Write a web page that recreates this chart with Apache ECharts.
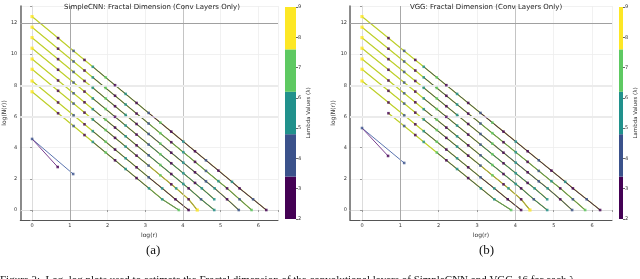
<!DOCTYPE html>
<html><head><meta charset="utf-8">
<script src="https://cdn.jsdelivr.net/npm/echarts@6/dist/echarts.min.js"></script>
<style>html,body{margin:0;padding:0;background:#fff}#c{width:640px;height:279px}</style>
</head><body><div id="c"></div>
<script>
// ---- data ----
const viridis5 = ['#440154', '#3b528b', '#21918c', '#5ec962', '#fde725'];
const colorbarTicks = [2, 3, 4, 5, 6, 7, 8, 9];
const colorbarEdges = [2, 3.4, 4.8, 6.2, 7.6, 9];
const xTickValues = [0, 1, 2, 3, 4, 5, 6];
const yTickValues = [0, 2, 4, 6, 8, 10, 12];

const L1_x = [0, 0.69, 1.10, 1.39, 1.61, 1.95, 2.20, 2.48, 2.77, 3.09, 3.40, 3.69, 4.01, 4.32, 4.61, 4.94, 5.30, 5.50, 5.86, 6.21];
const L1_y = [12.41, 11.03, 10.21, 9.63, 9.19, 8.51, 8.01, 7.45, 6.87, 6.23, 5.61, 5.03, 4.39, 3.77, 3.19, 2.53, 1.81, 1.39, 0.69, 0];
const L1_c = [4, 0, 1, 0, 2, 3, 0, 2, 0, 1, 3, 0, 2, 0, 1, 0, 2, 0, 1, 0];
const L2_x = [0, 0.69, 1.10, 1.39, 1.61, 1.95, 2.20, 2.48, 2.77, 3.09, 3.40, 3.69, 4.01, 4.32, 4.61, 4.94, 5.17, 5.50, 5.82];
const L2_y = [11.73, 10.35, 9.53, 8.95, 8.51, 7.83, 7.33, 6.77, 6.19, 5.55, 4.93, 4.35, 3.71, 3.09, 2.51, 1.85, 1.39, 0.69, 0];
const L2_c = [4, 0, 1, 0, 2, 3, 0, 2, 0, 1, 3, 0, 2, 0, 1, 2, 0, 1, 3];
const L3_x = [0, 0.69, 1.10, 1.39, 1.61, 1.95, 2.20, 2.48, 2.77, 3.09, 3.40, 3.69, 4.01, 4.32, 4.61, 4.84, 5.17, 5.48];
const L3_y = [11.06, 9.68, 8.86, 8.28, 7.84, 7.16, 6.66, 6.10, 5.52, 4.88, 4.26, 3.68, 3.04, 2.42, 1.84, 1.39, 0.69, 0];
const L3_c = [4, 0, 1, 0, 2, 3, 0, 2, 0, 1, 3, 0, 2, 0, 1, 2, 0, 1];
const L4_x = [0, 0.69, 1.10, 1.39, 1.61, 1.95, 2.20, 2.48, 2.77, 3.09, 3.40, 3.69, 4.01, 4.32, 4.50, 4.83];
const L4_y = [10.38, 9.00, 8.18, 7.60, 7.16, 6.48, 5.98, 5.42, 4.84, 4.20, 3.58, 3.00, 2.36, 1.74, 1.39, 0.69];
const L4_c = [4, 0, 1, 0, 2, 3, 0, 2, 0, 1, 3, 0, 2, 0, 2, 2];
const L5_x = [0, 0.69, 1.10, 1.39, 1.61, 1.95, 2.20, 2.48, 2.77, 3.09, 3.40, 3.69, 4.01, 4.15, 4.48, 4.83];
const L5_y = [9.69, 8.31, 7.49, 6.91, 6.47, 5.79, 5.29, 4.73, 4.15, 3.51, 2.89, 2.31, 1.67, 1.39, 0.69, 0];
const L5_c = [4, 0, 1, 0, 2, 3, 0, 2, 0, 1, 3, 0, 2, 0, 1, 2];
const L6_x = [0, 0.69, 1.10, 1.39, 1.61, 1.95, 2.20, 2.48, 2.77, 3.09, 3.40, 3.69, 3.82, 4.15, 4.38];
const L6_y = [9.03, 7.65, 6.83, 6.25, 5.81, 5.13, 4.63, 4.07, 3.49, 2.85, 2.23, 1.65, 1.39, 0.69, 0];
const L6_c = [4, 0, 1, 0, 2, 3, 0, 2, 0, 1, 3, 0, 2, 0, 4];
const L7_x = [0, 0.69, 1.10, 1.39, 1.61, 1.95, 2.20, 2.48, 2.77, 3.09, 3.45, 3.80, 4.15];
const L7_y = [8.28, 6.90, 6.08, 5.50, 5.06, 4.38, 3.88, 3.32, 2.74, 2.10, 1.39, 0.69, 0];
const L7_c = [4, 0, 1, 0, 2, 3, 0, 2, 0, 1, 2, 0, 0];
const L8_x = [0, 0.69, 1.10, 1.39, 1.61, 1.95, 2.20, 2.48, 2.77, 3.10, 3.45, 3.89];
const L8_y = [7.59, 6.21, 5.39, 4.81, 4.37, 3.69, 3.19, 2.63, 2.05, 1.39, 0.69, 0];
const L8_c = [4, 0, 1, 0, 2, 3, 0, 2, 0, 2, 2, 3];
// VGG lowest line (no r=1 point visible)
const V8_x = [0.69, 1.10, 1.39, 1.61, 1.95, 2.20, 2.48, 2.77, 3.10, 3.45, 3.89];
const V8_y = [6.21, 5.39, 4.81, 4.37, 3.69, 3.19, 2.63, 2.05, 1.39, 0.69, 0];
const V8_c = [0, 1, 0, 2, 3, 0, 2, 0, 2, 2, 3];

// short lines (first layer)
const cnnShortA_x = [0, 0.68], cnnShortA_y = [4.56, 2.76];
const cnnShortB_x = [0, 1.09], cnnShortB_y = [4.56, 2.31];
const vggShortA_x = [0, 0.68], vggShortA_y = [5.26, 3.47];
const vggShortB_x = [0, 1.10], vggShortB_y = [5.26, 3.02];

// ---- build ----
const cnnLevels = [[L1_x, L1_y, L1_c], [L2_x, L2_y, L2_c], [L3_x, L3_y, L3_c], [L4_x, L4_y, L4_c],
                   [L5_x, L5_y, L5_c], [L6_x, L6_y, L6_c], [L7_x, L7_y, L7_c], [L8_x, L8_y, L8_c]];
const vggLevels = [[L1_x, L1_y, L1_c], [L2_x, L2_y, L2_c], [L3_x, L3_y, L3_c], [L4_x, L4_y, L4_c],
                   [L5_x, L5_y, L5_c], [L6_x, L6_y, L6_c], [L7_x, L7_y, L7_c], [V8_x, V8_y, V8_c]];
const zip = (xs, ys) => xs.map((x, i) => [x, ys[i]]);

function panelSeries(levels, shortA, shortB, xi, yi) {
  const s = [];
  const base = {type: 'line', xAxisIndex: xi, yAxisIndex: yi, showSymbol: false, silent: true, animation: false};
  levels.forEach(([xs, ys, cs], li) => {
    const pts = zip(xs, ys);
    const endColor = viridis5[cs[cs.length - 1]];
    s.push(Object.assign({}, base, {data: pts, z: 2, lineStyle: {color: '#e2db34', width: 1.3}}));
    s.push(Object.assign({}, base, {data: pts.slice(0, 10), z: 3, lineStyle: {color: '#8cc63f', width: 0.6}}));
    s.push(Object.assign({}, base, {data: pts.slice(4), z: 4, lineStyle: {color: '#31446b', width: 1, opacity: 0.9}}));
    s.push(Object.assign({}, base, {data: pts.slice(9), z: 5, lineStyle: {color: endColor, width: 0.7, opacity: 0.8}}));
  });
  s.push(Object.assign({}, base, {data: zip(shortB[0], shortB[1]), z: 4, lineStyle: {color: '#5b75b0', width: 1}}));
  s.push(Object.assign({}, base, {data: zip(shortA[0], shortA[1]), z: 5, lineStyle: {color: '#7a3f8f', width: 1}}));
  // markers grouped by colour
  viridis5.forEach((col, ci) => {
    const d = [];
    levels.forEach(([xs, ys, cs]) => xs.forEach((x, i) => { if (cs[i] === ci) d.push([x, ys[i]]); }));
    if (ci === 0) d.push([shortA[0][1], shortA[1][1]]);
    if (ci === 1) { d.push([shortB[0][0], shortB[1][0]]); d.push([shortB[0][1], shortB[1][1]]); }
    s.push({type: 'scatter', xAxisIndex: xi, yAxisIndex: yi, data: d, symbol: 'rect',
            symbolSize: ci === 4 ? 3.2 : 2.6, itemStyle: {color: col}, z: 8, silent: true, animation: false});
  });
  // emphasised grid lines
  s.push({type: 'line', xAxisIndex: xi, yAxisIndex: yi, data: [], silent: true, animation: false,
    markLine: {silent: true, symbol: 'none', label: {show: false}, animation: false,
      data: [
        {xAxis: 1, lineStyle: {color: '#a8a8a8', width: 1, type: 'solid'}},
        {xAxis: 4, lineStyle: {color: '#c4c4c4', width: 1, type: 'solid'}},
        {yAxis: 12, lineStyle: {color: '#a0a0a0', width: 1, type: 'solid'}},
        {yAxis: 8, lineStyle: {color: '#ebebeb', width: 2, type: 'solid'}},
        {yAxis: 6, lineStyle: {color: '#ebebeb', width: 2, type: 'solid'}}
      ]}});
  return s;
}

function colorbarSeries(xi, yi) {
  return viridis5.map((col, i) => ({
    type: 'bar', xAxisIndex: xi, yAxisIndex: yi, stack: 'cb' + xi, clip: true,
    data: [i === 0 ? colorbarEdges[1] : colorbarEdges[i + 1] - colorbarEdges[i]],
    barWidth: '100%', itemStyle: {color: col}, silent: true, animation: false
  }));
}

const small = {fontSize: 5, color: '#333', fontFamily: 'DejaVu Sans'};
function mainX(g) {
  return {type: 'value', gridIndex: g, min: -0.313, max: 6.52, splitNumber: 7,
    name: 'log(r)', nameLocation: 'middle', nameGap: 7, nameTextStyle: {fontSize: 6, color: '#333', fontFamily: 'DejaVu Sans'},
    axisLine: {show: true, lineStyle: {color: '#dcdcdc', width: 1}},
    axisTick: {show: true, length: 2, lineStyle: {color: '#999'}},
    axisLabel: Object.assign({margin: 3, formatter: v => xTickValues.includes(v) ? String(v) : ''}, small),
    splitLine: {show: true, lineStyle: {color: '#eeeeee', width: 0.8}}};
}
function mainY(g) {
  return {type: 'value', gridIndex: g, min: -0.64, max: 13.09, splitNumber: 7,
    name: 'log(N(r))', nameLocation: 'middle', nameGap: 9, nameRotate: 90,
    nameTextStyle: {fontSize: 6, color: '#333', fontFamily: 'DejaVu Sans'},
    axisLine: {show: true, lineStyle: {color: '#dcdcdc', width: 1}},
    axisTick: {show: true, length: 2, lineStyle: {color: '#999'}},
    axisLabel: Object.assign({margin: 3, formatter: v => yTickValues.includes(v) ? String(v) : ''}, small),
    splitLine: {show: true, lineStyle: {color: '#eeeeee', width: 0.8}}};
}
function frameX(g) {
  return {type: 'value', gridIndex: g, position: 'top', min: 0, max: 1,
    axisLine: {show: true, lineStyle: {color: '#555', width: 1}}, axisTick: {show: false},
    axisLabel: {show: false}, splitLine: {show: false}};
}
function frameY(g) {
  return {type: 'value', gridIndex: g, position: 'right', min: 0, max: 1,
    axisLine: {show: true, lineStyle: {color: '#666', width: 1.5}}, axisTick: {show: false},
    axisLabel: {show: false}, splitLine: {show: false}};
}
function cbX(g) {
  return {type: 'category', gridIndex: g, data: ['λ'], show: false, boundaryGap: true};
}
function cbY(g) {
  return {type: 'value', gridIndex: g, position: 'right', min: colorbarTicks[0], max: colorbarTicks[colorbarTicks.length - 1], interval: 1,
    name: 'Lambda Values (λ)', nameLocation: 'middle', nameGap: 10, nameRotate: 90,
    nameTextStyle: {fontSize: 5.5, color: '#333', fontFamily: 'DejaVu Sans'},
    axisLine: {show: false}, axisTick: {show: true, length: 2, lineStyle: {color: '#666'}},
    axisLabel: Object.assign({margin: 2}, small), splitLine: {show: false}};
}

const option = {
  backgroundColor: '#fff',
  animation: false,
  title: [
    {text: 'SimpleCNN: Fractal Dimension (Conv Layers Only)', left: 147, top: -1, textAlign: 'center',
     textStyle: {fontSize: 7, fontWeight: 'normal', color: '#222', fontFamily: 'DejaVu Sans'}},
    {text: 'VGG: Fractal Dimension (Conv Layers Only)', left: 481, top: -1, textAlign: 'center',
     textStyle: {fontSize: 7, fontWeight: 'normal', color: '#222', fontFamily: 'DejaVu Sans'}}
  ],
  grid: [
    {left: 16, top: 6, width: 262, height: 214},
    {left: 350, top: 6, width: 262, height: 214},
    {left: 285, top: 7, width: 11, height: 212},
    {left: 619, top: 7, width: 11, height: 212}
  ],
  xAxis: [mainX(0), frameX(0), mainX(1), frameX(1), cbX(2), cbX(3)],
  yAxis: [mainY(0), frameY(0), mainY(1), frameY(1), cbY(2), cbY(3)],
  series: [].concat(
    panelSeries(cnnLevels, [cnnShortA_x, cnnShortA_y], [cnnShortB_x, cnnShortB_y], 0, 0),
    panelSeries(vggLevels, [vggShortA_x, vggShortA_y], [vggShortB_x, vggShortB_y], 2, 2),
    colorbarSeries(4, 4),
    colorbarSeries(5, 5)
  ),
  graphic: [
    {type: 'text', left: 146, top: 244, style: {text: '(a)', font: '13px "Liberation Serif"', fill: '#111'}},
    {type: 'text', left: 479, top: 244, style: {text: '(b)', font: '13px "Liberation Serif"', fill: '#111'}},
    {type: 'text', left: 0, top: 275, style: {text: 'Figure 3:  Log–log plots used to estimate the Fractal dimension of the convolutional layers of SimpleCNN and VGG-16 for each λ.', font: '11px "Liberation Serif"', fill: '#111'}}
  ]
};
const chart = echarts.init(document.getElementById('c'), null, {renderer: 'canvas'});
chart.setOption(option);
</script>
</body></html>
